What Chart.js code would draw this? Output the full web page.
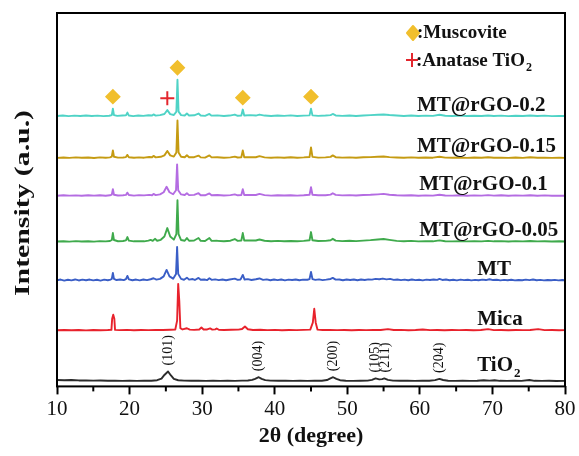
<!DOCTYPE html>
<html>
<head>
<meta charset="utf-8">
<script src="https://cdn.jsdelivr.net/npm/chart.js@4.4.1/dist/chart.umd.min.js"></script>
<style>
  html, body { margin: 0; padding: 0; background: #fff; }
  #wrap { width: 579px; height: 456px; }
</style>
</head>
<body>
<div id="wrap"><canvas id="xrdChart" width="579" height="456"></canvas></div>
<script>
// XRD patterns, [2theta, intensity above the trace baseline]
const rgo02 = [[10,0.6],[10.8,1.0],[11.6,0.4],[12.4,0.9],[13.2,0.5],[14.0,1.1],[14.8,0.6],[15.6,0.9],[16.4,0.4],[17.2,0.8],[17.55,1.5],[17.7,8],[17.85,1.5],[18.3,0.7],[19.0,1.0],[19.5,1.2],[19.7,4],[19.9,1.0],[20.5,0.4],[21.2,1.1],[21.9,0.7],[22.6,1.3],[23.1,1.0],[23.3,2.2],[23.6,0.9],[24.2,1.4],[24.8,2.6],[25.2,6.5],[25.6,2.4],[26.1,1.6],[26.45,5],[26.6,37],[26.75,5],[27.1,1.4],[27.6,1.0],[27.9,3],[28.2,1.0],[28.9,1.3],[29.5,3],[29.8,1.1],[30.4,0.7],[31.0,2.6],[31.3,0.9],[32.1,1.2],[33.0,0.6],[33.8,1.0],[34.5,2],[34.9,0.8],[35.4,1.0],[35.6,7],[35.8,1.0],[36.6,1.4],[37.4,1.0],[37.9,2.0],[38.6,1.0],[39.5,0.6],[40.4,1.1],[41.3,0.7],[42.2,1.2],[43.1,0.6],[44.0,0.9],[44.8,1.2],[45.0,8],[45.2,1.2],[46.0,0.7],[47.0,1.0],[47.7,1.4],[48.0,2.6],[48.4,1.1],[49.3,0.7],[50.3,1.1],[51.2,0.6],[52.2,1.0],[53.2,1.4],[54.2,1.8],[55.0,2.1],[55.8,1.5],[56.8,1.0],[57.8,0.6],[58.8,1.0],[59.8,0.5],[60.8,0.9],[61.8,0.7],[62.7,1.8],[63.5,0.8],[64.5,0.5],[65.5,0.9],[66.5,0.5],[67.5,0.8],[68.5,0.5],[69.4,1.1],[70.2,0.6],[71.2,0.9],[72.2,0.4],[73.2,0.8],[74.2,0.5],[75.2,1.0],[76.2,0.6],[77.2,0.9],[78.2,0.4],[79.2,0.7],[80,0.5]];
const rgo015 = [[10,0.5],[10.9,0.9],[11.7,0.5],[12.6,1.0],[13.4,0.6],[14.3,0.9],[15.1,0.4],[15.9,1.0],[16.7,0.6],[17.3,1.0],[17.55,1.8],[17.7,8],[17.85,1.6],[18.4,0.8],[19.1,0.9],[19.5,1.3],[19.7,3.5],[19.9,1.1],[20.6,0.6],[21.3,1.0],[22.0,0.7],[22.7,1.4],[23.1,1.1],[23.3,2.5],[23.6,1.0],[24.3,1.6],[24.8,3.0],[25.2,7.5],[25.6,3.0],[26.1,1.8],[26.45,6],[26.6,38],[26.75,6],[27.1,1.6],[27.6,1.1],[27.9,3.2],[28.2,1.1],[28.9,1.2],[29.5,2.8],[29.8,1.0],[30.4,0.8],[31.0,3.0],[31.3,1.0],[32.1,1.1],[33.0,0.7],[33.9,1.0],[34.5,1.8],[34.9,0.9],[35.4,1.1],[35.6,8],[35.8,1.1],[36.6,1.2],[37.4,1.1],[37.9,2.2],[38.6,1.0],[39.5,0.7],[40.4,1.0],[41.3,0.6],[42.2,1.1],[43.1,0.7],[44.0,1.0],[44.8,1.4],[45.0,11],[45.2,1.5],[46.0,0.8],[47.0,1.0],[47.7,1.5],[48.0,3.0],[48.4,1.2],[49.3,0.8],[50.3,1.0],[51.2,0.7],[52.2,1.1],[53.2,1.3],[54.2,1.6],[55.0,1.9],[55.8,1.3],[56.8,0.9],[57.8,0.6],[58.8,1.0],[59.8,0.6],[60.8,0.9],[61.8,0.7],[62.7,1.6],[63.5,0.8],[64.5,0.6],[65.5,0.9],[66.5,0.5],[67.5,0.9],[68.5,0.6],[69.4,1.2],[70.2,0.6],[71.2,0.8],[72.2,0.5],[73.2,0.9],[74.2,0.5],[75.2,1.1],[76.2,0.6],[77.2,0.8],[78.2,0.5],[79.2,0.7],[80,0.5]];
const rgo01 = [[10,0.4],[10.9,1.0],[11.7,0.6],[12.6,0.8],[13.4,0.4],[14.3,1.0],[15.1,0.6],[15.9,0.9],[16.7,0.5],[17.3,0.9],[17.55,1.6],[17.7,7],[17.85,1.5],[18.4,0.7],[19.1,1.0],[19.5,1.3],[19.7,3.6],[19.9,1.2],[20.6,0.6],[21.3,1.1],[22.0,0.8],[22.7,1.3],[23.1,1.0],[23.3,2.3],[23.6,1.1],[24.2,1.8],[24.7,4.0],[25.1,9.5],[25.5,4.0],[26.0,2.0],[26.4,6],[26.55,32],[26.7,6],[27.1,1.8],[27.6,1.2],[27.9,3.0],[28.2,1.1],[28.9,1.3],[29.5,3.0],[29.8,1.0],[30.4,0.9],[31.0,2.8],[31.3,1.0],[32.1,1.2],[33.0,0.7],[33.9,1.1],[34.5,1.8],[34.9,0.9],[35.4,1.2],[35.6,7],[35.8,1.2],[36.6,1.3],[37.4,1.2],[37.9,2.3],[38.6,1.1],[39.5,0.6],[40.4,1.0],[41.3,0.7],[42.2,1.0],[43.1,0.6],[44.0,1.0],[44.8,1.5],[45.0,9],[45.2,1.5],[46.0,0.9],[47.0,1.0],[47.7,1.6],[48.0,3.0],[48.4,1.3],[49.3,0.8],[50.3,1.1],[51.2,0.7],[52.2,1.2],[53.2,1.4],[54.2,1.9],[55.0,2.3],[55.8,1.5],[56.8,1.0],[57.8,0.7],[58.8,1.0],[59.8,0.5],[60.8,0.8],[61.8,0.6],[62.7,1.5],[63.5,0.7],[64.5,0.6],[65.5,1.0],[66.5,0.5],[67.5,0.8],[68.5,0.6],[69.4,1.1],[70.2,0.6],[71.2,0.9],[72.2,0.5],[73.2,0.8],[74.2,0.6],[75.2,1.0],[76.2,0.5],[77.2,0.8],[78.2,0.5],[79.2,0.6],[80,0.4]];
const rgo005 = [[10,0.5],[10.9,0.8],[11.7,0.4],[12.6,0.9],[13.4,0.5],[14.3,0.8],[15.1,0.4],[15.9,0.9],[16.7,0.6],[17.3,1.0],[17.55,2.0],[17.7,9],[17.85,2.0],[18.4,0.8],[19.1,1.0],[19.5,1.6],[19.7,5],[19.9,1.4],[20.6,0.7],[21.3,0.9],[22.0,0.7],[22.6,1.4],[22.9,2.2],[23.2,1.2],[23.5,3.2],[23.8,1.3],[24.3,2.2],[24.8,5.5],[25.2,14],[25.6,5.5],[26.1,2.4],[26.45,8],[26.6,42],[26.75,8],[27.1,2.0],[27.6,1.3],[27.9,4.0],[28.2,1.3],[28.9,1.5],[29.5,4.0],[29.8,1.2],[30.4,1.0],[31.0,4.0],[31.3,1.1],[32.1,1.2],[33.0,0.8],[33.9,1.3],[34.5,3.0],[34.9,1.2],[35.4,1.5],[35.6,9],[35.8,1.5],[36.6,1.6],[37.4,1.5],[37.9,2.5],[38.6,1.3],[39.5,0.8],[40.4,1.1],[41.3,0.8],[42.2,1.0],[43.1,0.8],[44.0,1.1],[44.8,1.8],[45.0,10],[45.2,1.8],[46.0,1.0],[47.0,1.1],[47.7,1.8],[48.0,3.2],[48.4,1.4],[49.3,0.9],[50.3,1.2],[51.2,0.9],[52.2,1.4],[53.2,1.9],[54.2,2.6],[55.0,3.0],[55.8,2.2],[56.8,1.2],[57.8,0.8],[58.8,1.1],[59.8,0.6],[60.8,0.9],[61.8,0.7],[62.7,1.6],[63.5,0.8],[64.5,0.6],[65.5,0.9],[66.5,0.6],[67.5,0.9],[68.5,0.6],[69.4,1.2],[70.2,0.7],[71.2,0.9],[72.2,0.5],[73.2,0.9],[74.2,0.6],[75.2,1.0],[76.2,0.6],[77.2,0.8],[78.2,0.5],[79.2,0.7],[80,0.5]];
const mt = [[10,0.6],[10.5,1.3],[11.0,0.3],[11.5,1.1],[12.0,0.5],[12.5,1.4],[13.0,0.4],[13.5,1.2],[14.0,0.6],[14.5,1.3],[15.0,0.5],[15.5,1.1],[16.0,0.3],[16.5,1.2],[17.0,0.6],[17.4,1.3],[17.55,2.0],[17.7,8],[17.85,2.0],[18.2,0.8],[18.7,1.4],[19.2,0.7],[19.5,1.8],[19.7,5],[19.9,1.5],[20.4,0.6],[20.9,1.3],[21.4,0.5],[21.9,1.4],[22.4,0.7],[22.9,1.6],[23.3,2.6],[23.7,1.2],[24.2,2.0],[24.7,4.5],[25.1,11],[25.5,4.5],[26.0,2.2],[26.4,7],[26.55,34],[26.7,7],[27.1,2.0],[27.5,1.1],[27.9,3.2],[28.2,1.2],[28.7,1.8],[29.0,0.9],[29.5,3.0],[29.8,1.1],[30.3,1.4],[30.7,0.8],[31.0,2.6],[31.3,1.0],[31.8,1.5],[32.3,0.7],[32.8,1.3],[33.3,0.6],[33.8,1.4],[34.5,2.2],[34.9,1.0],[35.3,1.4],[35.6,6],[35.85,1.3],[36.3,1.7],[36.8,0.9],[37.4,1.6],[37.9,2.4],[38.4,1.0],[38.9,1.5],[39.4,0.6],[39.9,1.3],[40.4,0.7],[40.9,1.4],[41.4,0.5],[41.9,1.2],[42.4,0.8],[42.9,1.4],[43.4,0.6],[43.9,1.2],[44.5,1.1],[44.8,1.8],[45.0,9],[45.2,1.8],[45.6,1.0],[46.1,1.5],[46.6,0.7],[47.1,1.2],[47.7,1.9],[48.0,3.0],[48.4,1.2],[48.9,1.4],[49.4,0.6],[49.9,1.3],[50.4,0.8],[50.9,1.4],[51.4,0.6],[51.9,1.3],[52.4,0.9],[52.9,1.5],[53.4,1.2],[53.9,2.0],[54.4,1.6],[54.9,2.3],[55.4,1.5],[55.9,2.0],[56.4,1.0],[56.9,1.4],[57.4,0.7],[57.9,1.2],[58.4,0.6],[58.9,1.3],[59.4,0.7],[59.9,1.1],[60.4,0.5],[60.9,1.2],[61.4,0.8],[61.9,1.3],[62.4,1.0],[62.7,1.9],[63.1,0.9],[63.6,1.3],[64.1,0.6],[64.6,1.1],[65.1,0.5],[65.6,1.2],[66.1,0.7],[66.6,1.1],[67.1,0.5],[67.6,1.0],[68.1,0.6],[68.6,1.2],[69.1,0.8],[69.6,1.6],[70.1,0.8],[70.6,1.1],[71.1,0.5],[71.6,1.0],[72.1,0.6],[72.6,1.1],[73.1,0.5],[73.6,0.9],[74.1,0.6],[74.6,1.2],[75.1,0.7],[75.6,1.3],[76.1,0.6],[76.6,1.0],[77.1,0.5],[77.6,0.9],[78.1,0.6],[78.6,1.0],[79.1,0.5],[79.6,0.8],[80,0.6]];
const mica = [[10,0.4],[11.0,0.7],[12.0,0.4],[13.0,0.6],[14.0,0.3],[15.0,0.6],[16.0,0.4],[17.0,0.6],[17.5,0.8],[17.6,12],[17.75,16],[17.9,12],[18.0,0.8],[18.6,0.5],[19.6,0.8],[20.6,0.4],[21.6,0.7],[22.6,0.5],[23.6,0.8],[24.6,0.6],[25.6,0.9],[26.3,1.2],[26.55,10],[26.7,47],[26.85,30],[27.0,2.5],[27.3,1.2],[27.9,2.4],[28.3,1.0],[28.9,0.8],[29.6,1.2],[29.9,3.2],[30.2,1.1],[30.7,1.2],[31.1,2.2],[31.4,1.0],[31.8,1.3],[32.0,2.2],[32.3,0.9],[33.0,0.7],[34.0,0.9],[35.0,1.0],[35.5,1.6],[35.9,4.2],[36.3,1.4],[37.0,0.7],[38.0,0.9],[39.0,0.5],[40.0,0.8],[41.0,0.4],[42.0,0.7],[43.0,0.5],[44.0,0.8],[44.9,1.0],[45.25,8],[45.45,22],[45.65,8],[45.9,1.0],[46.6,0.6],[47.6,0.8],[48.6,0.5],[49.6,0.7],[50.6,0.4],[51.6,0.7],[52.6,0.5],[53.6,0.8],[54.6,0.6],[55.6,1.5],[56.4,0.6],[57.4,0.8],[58.4,0.4],[59.4,0.7],[60.4,1.2],[61.4,0.5],[62.4,0.7],[63.4,0.4],[64.4,0.7],[65.4,0.5],[66.4,0.7],[67.4,0.4],[68.4,0.7],[69.4,1.5],[70.2,0.5],[71.2,0.7],[72.2,0.4],[73.2,0.6],[74.2,0.5],[75.2,0.7],[76.3,1.5],[77.2,0.5],[78.2,0.7],[79.2,0.4],[80,0.5]];
const tio2 = [[10,1.5],[11,1.2],[12,1.4],[13,1.0],[14,1.1],[15,0.8],[16,0.9],[17,0.6],[18,0.8],[19,0.5],[20,0.7],[21,0.5],[22,0.8],[23,0.7],[23.8,1.2],[24.4,2.8],[24.8,6.5],[25.3,10],[25.7,6],[26.1,2.6],[26.7,1.2],[27.5,0.8],[28.5,0.6],[29.5,0.8],[30.5,0.5],[31.5,0.7],[32.5,0.5],[33.5,0.7],[34.5,0.5],[35.5,0.8],[36.3,0.9],[36.9,1.5],[37.3,2.6],[37.8,4.2],[38.2,2.5],[38.7,1.3],[39.4,0.8],[40.5,0.6],[41.5,0.7],[42.5,0.5],[43.5,0.7],[44.5,0.5],[45.5,0.6],[46.5,0.7],[47.2,1.4],[47.6,2.8],[48.05,4.2],[48.5,2.6],[49.0,1.2],[49.8,0.7],[50.8,0.5],[51.8,0.7],[52.8,0.8],[53.4,1.6],[53.9,3.0],[54.4,2.0],[54.8,2.3],[55.1,3.0],[55.6,1.6],[56.3,0.8],[57.3,0.6],[58.3,0.7],[59.3,0.5],[60.3,0.6],[61.3,0.7],[62.1,1.3],[62.7,2.5],[63.2,1.4],[63.9,0.7],[64.9,0.5],[65.9,0.6],[66.9,0.5],[67.9,0.7],[68.8,1.2],[69.6,0.8],[70.3,1.2],[71.0,0.6],[72.0,0.5],[73.0,0.6],[74.0,0.5],[75.1,1.4],[75.8,0.6],[76.8,0.5],[77.8,0.6],[78.8,0.4],[80,0.5]];

const samples = ['MT@rGO-0.2', 'MT@rGO-0.15', 'MT@rGO-0.1', 'MT@rGO-0.05', 'MT', 'Mica', 'TiO2'];
const patterns = [rgo02, rgo015, rgo01, rgo005, mt, mica, tio2];
const offsets = [271, 229, 191, 145, 106, 56, 5]; // vertical stacking of each trace
const colors = ['#4fd3c6', '#c59b12', '#b46ce2', '#3faa4c', '#3a5ec6', '#e8222c', '#2b2b2b'];

const muscovitePeaks = [17.7, 26.6, 35.6, 45.0];
const anatasePeaks = [25.2];
const hklLabels = ['(101)', '(004)', '(200)', '(105)', '(211)', '(204)'];
const hklPeaks = [25.3, 37.8, 48.05, 53.9, 55.3, 62.7];
const xTicks = [10, 20, 30, 40, 50, 60, 70, 80];

const SERIF = "'Liberation Serif', 'Times New Roman', serif";

// highest stacked point of a trace around a peak position
function topNear(i, pos) {
  let best = 0;
  patterns[i].forEach(([x, y]) => { if (Math.abs(x - pos) <= 0.3 && y > best) best = y; });
  return best + offsets[i];
}

const datasets = patterns.map((p, i) => ({
  label: samples[i],
  data: p.map(([x, y]) => ({ x, y: y + offsets[i] })),
  borderColor: colors[i],
  borderWidth: 1.9,
  pointRadius: 0,
  tension: 0,
  fill: false,
  borderJoinStyle: 'round'
}));

datasets.push({
  label: 'Muscovite',
  type: 'scatter',
  data: muscovitePeaks.map(p => ({ x: p, y: topNear(0, p) + 12 })),
  pointStyle: 'rectRot',
  pointRadius: 6.5,
  pointBackgroundColor: '#f1bf2d',
  pointBorderColor: '#f1bf2d',
  pointBorderWidth: 2
});
datasets.push({
  label: 'Anatase',
  type: 'scatter',
  data: anatasePeaks.map(p => ({ x: p, y: topNear(0, p) + 12 })),
  pointStyle: 'cross',
  pointRadius: 7,
  pointBorderColor: '#e3262d',
  pointBorderWidth: 2
});

// text with a trailing subscript "2" for TiO2
function chemText(ctx, text, x, y, size, weight) {
  ctx.font = weight + ' ' + size + 'px ' + SERIF;
  if (text.endsWith('TiO2')) {
    const main = text.slice(0, -1);
    ctx.fillText(main, x, y);
    const w = ctx.measureText(main).width;
    ctx.font = weight + ' ' + Math.round(size * 0.62) + 'px ' + SERIF;
    ctx.fillText('2', x + w + 1, y + size * 0.28);
  } else {
    ctx.fillText(text, x, y);
  }
}

const decorations = {
  id: 'decorations',
  afterDraw(chart) {
    const { ctx, chartArea: a, scales: { x, y } } = chart;
    ctx.save();

    // frame
    ctx.strokeStyle = '#000';
    ctx.lineWidth = 2;
    ctx.strokeRect(a.left, a.top, a.right - a.left, a.bottom - a.top);

    // minor ticks between the labelled ones
    for (let v = 15; v < 80; v += 10) {
      const px = x.getPixelForValue(v);
      ctx.beginPath();
      ctx.moveTo(px, a.bottom);
      ctx.lineTo(px, a.bottom + 5);
      ctx.stroke();
    }

    // sample names
    ctx.fillStyle = '#111';
    ctx.textBaseline = 'alphabetic';
    ctx.textAlign = 'left';
    const nameX = [59.6, 59.6, 59.9, 59.9, 67.9, 67.9, 67.9];
    samples.forEach((s, i) => {
      const gap = i === samples.length - 1 ? 10 : 6;
      chemText(ctx, s, x.getPixelForValue(nameX[i]), y.getPixelForValue(offsets[i] + gap), 21, 'bold');
    });

    // Miller indices of the anatase reflections
    ctx.font = '14px ' + SERIF;
    ctx.textBaseline = 'middle';
    hklLabels.forEach((t, k) => {
      const px = x.getPixelForValue(hklPeaks[k]);
      const py = y.getPixelForValue(topNear(6, hklPeaks[k]) + 6);
      ctx.save();
      ctx.translate(px, py);
      ctx.rotate(-Math.PI / 2);
      ctx.fillText(t, 0, 0);
      ctx.restore();
    });

    // phase key
    ctx.fillStyle = '#f1bf2d';
    ctx.strokeStyle = '#f1bf2d';
    ctx.lineWidth = 2;
    ctx.lineJoin = 'round';
    ctx.beginPath();
    ctx.moveTo(413, 26); ctx.lineTo(419, 33); ctx.lineTo(413, 40); ctx.lineTo(407, 33);
    ctx.closePath();
    ctx.fill();
    ctx.stroke();
    ctx.strokeStyle = '#e3262d';
    ctx.beginPath();
    ctx.moveTo(412, 53); ctx.lineTo(412, 67);
    ctx.moveTo(406, 60); ctx.lineTo(418, 60);
    ctx.stroke();
    ctx.fillStyle = '#111';
    ctx.textBaseline = 'alphabetic';
    chemText(ctx, ':Muscovite', 417, 38, 19, 'bold');
    chemText(ctx, ':Anatase TiO2', 416, 66, 19, 'bold');

    // y axis title
    ctx.save();
    ctx.translate(24, 203);
    ctx.rotate(-Math.PI / 2);
    ctx.font = 'bold 21px ' + SERIF;
    ctx.textAlign = 'center';
    ctx.textBaseline = 'middle';
    const title = 'Intensity (a.u.)';
    const stretch = 186 / ctx.measureText(title).width;
    ctx.scale(stretch, 1);
    ctx.fillText(title, 0, 0);
    ctx.restore();

    ctx.restore();
  }
};

new Chart(document.getElementById('xrdChart'), {
  type: 'line',
  data: { datasets },
  options: {
    responsive: false,
    animation: false,
    layout: { padding: { left: 57, right: 14, top: 13, bottom: 6 } },
    plugins: { legend: { display: false }, tooltip: { enabled: false } },
    scales: {
      x: {
        type: 'linear',
        min: 10,
        max: 80,
        afterBuildTicks: s => { s.ticks = xTicks.map(v => ({ value: v })); },
        ticks: { color: '#111', font: { family: SERIF, size: 21 }, padding: 2, maxRotation: 0 },
        grid: { drawOnChartArea: false, tickLength: 8, tickWidth: 2, color: '#000' },
        border: { display: false },
        title: {
          display: true,
          text: '2θ (degree)',
          color: '#111',
          font: { family: SERIF, size: 22, weight: 'bold' },
          padding: { top: 0, bottom: 0 }
        }
      },
      y: { display: false, min: 0, max: 375 }
    }
  },
  plugins: [decorations]
});
</script>
</body>
</html>
